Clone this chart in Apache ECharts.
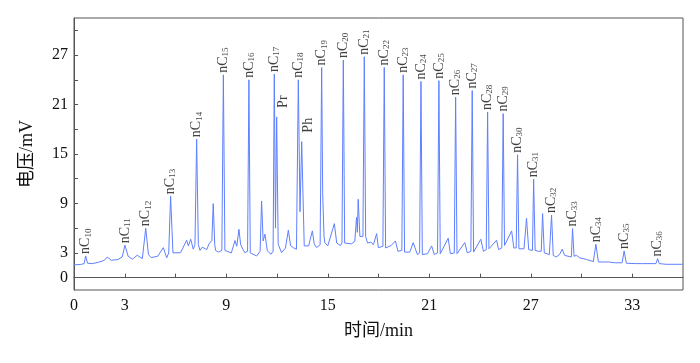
<!DOCTYPE html>
<html>
<head>
<meta charset="utf-8">
<script src="https://cdn.jsdelivr.net/npm/echarts@6/dist/echarts.min.js"></script>
<style>html,body{margin:0;padding:0;background:#fff}#c{width:700px;height:363px}</style>
</head>
<body>
<div id="c"></div>
<script>
// retention time (min)
const time = [
0.00,0.40,0.60,0.69,0.80,1.10,1.50,1.80,1.97,2.20,2.60,2.85,3.01,3.20,3.45,3.74,4.04,4.24,4.40,4.57,
4.95,5.28,5.48,5.60,5.71,5.85,5.91,6.30,6.66,6.76,6.90,7.05,7.15,7.25,7.35,7.45,7.58,7.85,7.98,8.15,
8.23,8.32,8.37,8.55,8.74,8.83,8.92,9.30,9.52,9.62,9.75,9.85,9.98,10.10,10.26,10.34,10.42,10.50,10.80,11.00,
11.09,11.18,11.29,11.43,11.65,11.77,11.84,11.91,11.98,12.07,12.27,12.50,12.67,12.80,12.96,13.15,13.26,13.36,13.46,13.61,
13.87,14.09,14.20,14.34,14.55,14.64,14.70,14.78,14.83,15.00,15.39,15.53,15.75,15.84,15.92,16.00,16.10,16.40,16.60,16.70,
16.75,16.80,16.90,16.96,17.08,17.16,17.24,17.35,17.55,17.70,17.89,17.99,18.26,18.34,18.42,18.50,18.75,19.00,19.15,19.38,
19.46,19.54,19.60,19.85,20.05,20.30,20.43,20.51,20.59,20.65,20.90,21.14,21.30,21.49,21.57,21.65,21.73,22.12,22.25,22.48,
22.56,22.64,22.70,23.10,23.25,23.46,23.54,23.62,23.70,24.05,24.20,24.37,24.45,24.53,24.60,24.98,25.10,25.29,25.37,25.45,
25.55,25.87,26.00,26.14,26.22,26.30,26.40,26.60,26.75,26.88,27.10,27.17,27.26,27.45,27.62,27.70,27.80,28.10,28.23,28.33,
28.50,28.70,28.86,29.00,29.20,29.40,29.47,29.56,29.70,29.90,30.30,30.70,30.85,31.00,31.30,31.60,32.00,32.40,32.52,32.65,
33.20,33.60,34.40,34.50,34.60,35.00,36.00
];
// detector signal (mV)
const voltage = [
1.55,1.60,1.70,2.63,1.75,1.70,1.90,2.10,2.50,2.10,2.20,2.50,3.93,2.60,2.23,2.72,2.30,6.00,2.80,2.43,
2.60,3.64,2.40,3.00,9.88,3.00,2.84,3.03,4.54,3.85,4.66,3.45,4.00,16.8,4.00,3.30,3.70,3.40,4.10,4.50,
8.98,4.00,3.30,3.10,3.30,24.6,3.30,3.00,4.50,3.80,5.87,4.00,3.45,3.03,3.20,24.0,3.00,2.84,2.63,3.20,
9.30,4.45,5.27,3.24,2.84,3.20,24.7,6.00,19.5,4.05,3.03,3.60,5.75,3.90,3.64,3.45,24.0,8.00,16.5,3.85,
3.85,5.67,4.10,3.64,4.00,25.5,10.3,5.00,4.25,3.85,6.55,4.20,3.90,4.20,26.4,4.20,4.00,4.10,4.40,7.30,
5.50,9.50,5.00,4.85,5.00,26.8,5.00,4.20,4.30,4.00,5.34,3.64,3.80,25.5,3.60,3.64,3.90,4.45,3.20,3.30,
24.6,3.10,3.03,3.10,4.25,2.80,3.00,23.8,2.80,2.63,2.90,3.85,2.80,3.00,23.9,2.90,2.84,4.78,2.90,3.00,
21.9,2.90,2.90,4.25,3.00,3.20,22.7,3.10,3.10,4.66,3.20,3.40,20.1,3.50,3.64,4.54,3.40,3.60,19.9,3.90,
4.05,5.67,3.60,3.60,14.9,3.50,3.40,3.50,7.20,3.40,3.30,11.94,3.30,3.20,3.20,7.77,3.00,2.80,7.60,2.70,
2.50,2.80,3.45,2.70,2.60,2.50,5.95,2.60,2.70,2.40,2.20,1.95,4.05,1.90,1.90,1.90,1.80,1.80,3.24,1.75,
1.70,1.70,1.70,2.31,1.70,1.62,1.62
];
// peak annotations
const peakNames = ['nC10','nC11','nC12','nC13','nC14','nC15','nC16','nC17','nC18','nC19','nC20','nC21','nC22','nC23','nC24','nC25','nC26','nC27','nC28','nC29','nC30','nC31','nC32','nC33','nC34','nC35','nC36'];
const peakTime = [0.69,3.01,4.24,5.71,7.25,8.83,10.34,11.84,13.26,14.64,15.92,17.16,18.34,19.46,20.51,21.57,22.56,23.54,24.45,25.37,26.22,27.17,28.23,29.47,30.85,32.52,34.50];
const peakHeight = [2.63,3.93,6.00,9.88,16.8,24.6,24.0,24.7,24.0,25.5,26.4,26.8,25.5,24.6,23.8,23.9,21.9,22.7,20.1,19.9,14.9,11.94,7.6,5.95,4.05,3.24,2.31];
const isoNames = ['Pr','Ph'];
const isoTime = [11.98,13.46];
const isoHeight = [19.5,16.5];

const xLabels = [0,3,9,15,21,27,33];
const xTicks = [3,6,9,12,15,18,21,24,27,30,33];
const yLabels = [0,3,9,15,21,27];
const yTicks = [0,3,6,9,12,15,18,21,24,27,30];

const SERIF = '"Liberation Serif","Times New Roman","Noto Sans CJK SC",serif';

const lineData = time.map((t,i)=>[t, voltage[i]]);
const peakData = peakNames.map((n,i)=>({name:n, value:[peakTime[i], peakHeight[i]]}));
const isoData = isoNames.map((n,i)=>({name:n, value:[isoTime[i], isoHeight[i]]}));

const chart = echarts.init(document.getElementById('c'), null, {renderer:'canvas'});
chart.setOption({
  animation:false,
  backgroundColor:'#fff',
  grid:{left:74,right:17,top:18,bottom:73,show:true,borderColor:'#555',borderWidth:1},
  xAxis:{
    type:'value',min:0,max:36,
    name:'时间/min',nameLocation:'middle',nameGap:32,
    nameTextStyle:{fontFamily:SERIF,fontSize:18,color:'#111'},
    axisLine:{show:true,lineStyle:{color:'#555'}},
    axisTick:{show:true,inside:true,length:4,customValues:xTicks,lineStyle:{color:'#555'}},
    axisLabel:{customValues:xLabels,fontFamily:SERIF,fontSize:16,color:'#111',margin:8},
    splitLine:{show:false}
  },
  yAxis:{
    type:'value',min:-1.5,max:31.5,
    name:'电压/mV',nameLocation:'middle',nameGap:38,nameRotate:90,
    nameTextStyle:{fontFamily:SERIF,fontSize:18,color:'#111'},
    axisLine:{show:true,lineStyle:{color:'#555'}},
    axisTick:{show:true,inside:true,length:4,customValues:yTicks,lineStyle:{color:'#555'}},
    axisLabel:{customValues:yLabels,fontFamily:SERIF,fontSize:16,color:'#111',margin:6},
    splitLine:{show:false}
  },
  series:[
    {type:'line',data:lineData,showSymbol:false,symbol:'none',
     lineStyle:{color:'#5f80ff',width:1},z:2},
    {type:'scatter',data:peakData,symbolSize:0,z:3,
     label:{show:true,position:'top',distance:2,rotate:90,align:'left',verticalAlign:'middle',
       formatter:p=>'{n|nC}{s|'+p.name.slice(2)+'}',
       rich:{n:{fontFamily:SERIF,fontSize:14,color:'#111',lineHeight:14},
             s:{fontFamily:SERIF,fontSize:9,color:'#111',verticalAlign:'bottom',lineHeight:14,padding:[7,0,0,0]}}}},
    {type:'scatter',data:isoData,symbolSize:0,z:3,
     label:{show:true,position:'top',distance:9,rotate:90,align:'left',verticalAlign:'middle',offset:[0,7],
       formatter:p=>p.name,fontFamily:SERIF,fontSize:14,color:'#111'}}
  ]
});
</script>
</body>
</html>
